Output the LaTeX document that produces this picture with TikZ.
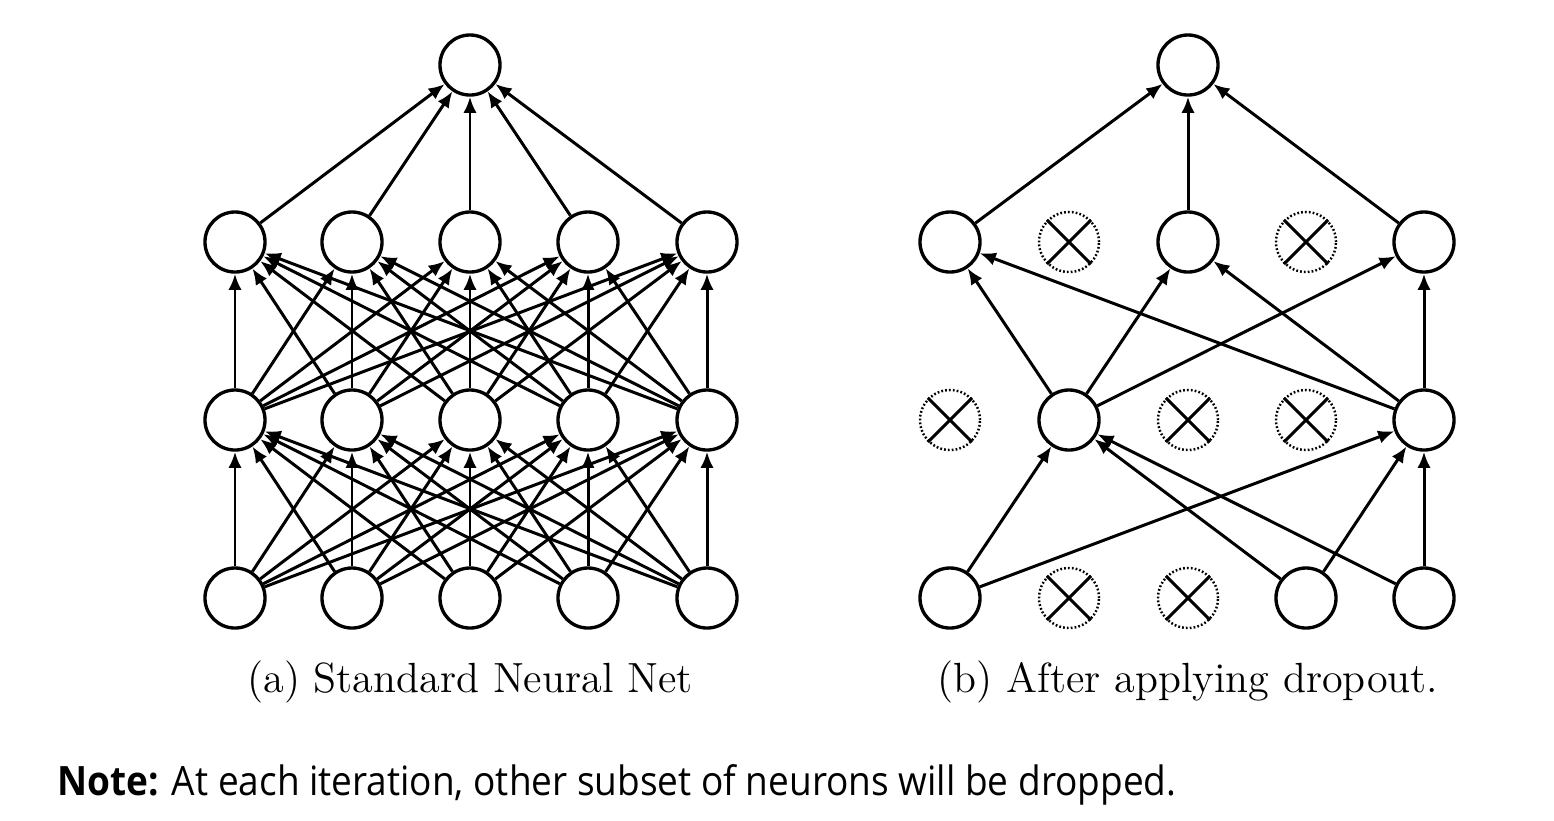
\documentclass[tikz,border=0pt]{standalone}
\usepackage{fontspec}
\newfontfamily\notefont[FakeStretch=0.915]{Open Sans}
\usetikzlibrary{arrows.meta}

\tikzset{
  neuron/.style={circle, draw, line width=0.95pt, minimum size=0.6cm, inner sep=0pt},
  dropped/.style={circle, draw, dash pattern=on 0.5pt off 0.6pt, line width=0.7pt, minimum size=0.6cm, inner sep=0pt},
  conn/.style={line width=0.85pt, -{Latex[length=4.6pt,width=3.8pt]}},
  cross/.style={line width=0.85pt},
  caption/.style={anchor=base, inner sep=0pt, font=\fontsize{12}{14}\selectfont}
}

\begin{document}
\begin{tikzpicture}[x=0.01cm, y=-0.01cm]
  \useasboundingbox (0,0) rectangle (1554,820);

  % (a) standard net
  \foreach \i/\x in {1/235, 2/352, 3/470, 4/588, 5/707} {
    \node[neuron] (a-i-\i) at (\x,598) {};
    \node[neuron] (a-h-\i) at (\x,420) {};
    \node[neuron] (a-g-\i) at (\x,242) {};
  }
  \node[neuron] (a-o) at (470,65) {};
  \foreach \i in {1,...,5} {
    \foreach \j in {1,...,5} {
      \draw[conn] (a-i-\i) -- (a-h-\j);
      \draw[conn] (a-h-\i) -- (a-g-\j);
    }
    \draw[conn] (a-g-\i) -- (a-o);
  }
  \node[caption] (cap-a) at (470,692) {(a) Standard Neural Net};

  % (b) after dropout
  \foreach \i/\x in {1/950, 2/1069, 3/1188, 4/1306, 5/1424} {
    \coordinate (b-i-\i) at (\x,598);
    \coordinate (b-h-\i) at (\x,420);
    \coordinate (b-g-\i) at (\x,242);
  }
  \foreach \n in {b-i-1, b-i-4, b-i-5, b-h-2, b-h-5, b-g-1, b-g-3, b-g-5}
    \node[neuron] (\n) at (\n) {};
  \foreach \n in {b-i-2, b-i-3, b-h-1, b-h-3, b-h-4, b-g-2, b-g-4} {
    \node[dropped] (\n) at (\n) {};
    \draw[cross] (\n.45) -- (\n.225) (\n.135) -- (\n.315);
  }
  \node[neuron] (b-o) at (1188,65) {};
  \foreach \i in {1,4,5}
    \foreach \j in {2,5}
      \draw[conn] (b-i-\i) -- (b-h-\j);
  \foreach \i in {2,5}
    \foreach \j in {1,3,5}
      \draw[conn] (b-h-\i) -- (b-g-\j);
  \foreach \i in {1,3,5}
    \draw[conn] (b-g-\i) -- (b-o);
  \node[caption] (cap-b) at (1188,692) {(b) After applying dropout.};

  \node[anchor=base west, inner sep=0pt, font=\notefont\fontsize{11.5}{14}\selectfont] (note) at (57,795)
    {\textbf{Note:} At each iteration, other subset of neurons will be dropped.};
\end{tikzpicture}
\end{document}
